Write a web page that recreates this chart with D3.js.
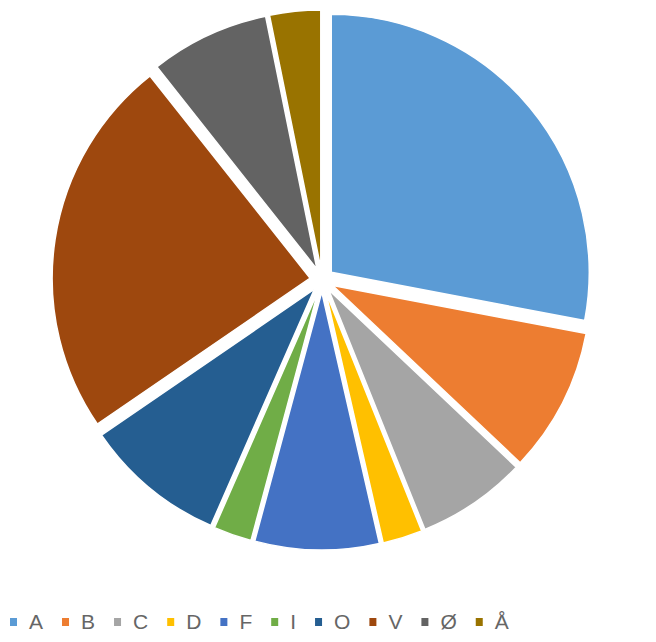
<!DOCTYPE html>
<html>
<head>
  <meta charset="utf-8">
  <style>
    body { margin: 0; background: #fff; }
    .legend text { font-family: 'Liberation Sans', Arial, sans-serif; font-size: 21px; fill: #666; }
  </style>
</head>
<body>
  <div class='chart-container'></div>
  <script src="https://cdn.jsdelivr.net/npm/d3@7/dist/d3.min.js"></script>
  <script>
    // slice values (percent)
    var categories = ['A', 'B', 'C', 'D', 'F', 'I', 'O', 'V', 'Ø', 'Å'];
    var shares = [28.1, 9.1, 6.9, 2.5, 7.8, 2.4, 8.9, 24.0, 7.5, 3.2];
    var colors = ['#5b9bd5', '#ed7d31', '#a5a5a5', '#ffc000', '#4472c4',
      '#70ad47', '#255e91', '#9e480e', '#636363', '#997300'];

    var width = 656, height = 642;
    var cx = 322, cy = 280, radius = 258, explode = 12;

    var data = categories.map(function (c, i) {
      return { name: c, value: shares[i], color: colors[i] };
    });

    var svg = d3.select('.chart-container').append('svg')
      .attr('width', width)
      .attr('height', height);

    var pie = d3.pie()
      .sort(null)
      .value(function (d) { return d.value; });

    var arc = d3.arc()
      .innerRadius(0)
      .outerRadius(radius);

    var g = svg.append('g')
      .attr('transform', 'translate(' + cx + ',' + cy + ')');

    g.selectAll('path')
      .data(pie(data))
      .enter()
      .append('path')
      .attr('d', arc)
      .attr('transform', function (d) {
        var mid = (d.startAngle + d.endAngle) / 2;
        return 'translate(' + (Math.sin(mid) * explode) + ',' + (-Math.cos(mid) * explode) + ')';
      })
      .style('fill', function (d) { return d.data.color; })
      .style('stroke', '#fff')
      .style('stroke-width', 1.5);

    // legend: flows left to right along the bottom
    var legend = svg.append('g')
      .attr('class', 'legend')
      .attr('transform', 'translate(0, 622)');

    var xPos = 10;
    data.forEach(function (d) {
      var item = legend.append('g').attr('transform', 'translate(' + xPos + ',0)');
      item.append('rect')
        .attr('x', 0)
        .attr('y', -4)
        .attr('width', 7)
        .attr('height', 8)
        .style('fill', d.color);
      var t = item.append('text')
        .attr('x', 19)
        .attr('dy', '0.35em')
        .text(d.name);
      xPos += 19 + t.node().getComputedTextLength() + 19;
    });
  </script>
</body>
</html>
